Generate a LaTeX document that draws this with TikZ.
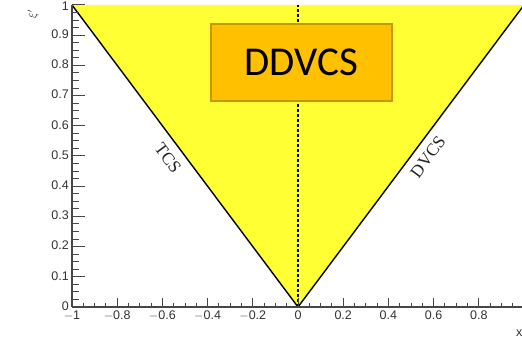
\documentclass[tikz,border=0pt]{standalone}
\usepackage{fontspec}
\setmainfont{Liberation Serif}
\newfontfamily\axisfont{Liberation Sans}
\newfontfamily\boxfont{Carlito}
\definecolor{tri}{RGB}{255,255,51}
\definecolor{boxfill}{RGB}{255,192,0}
\definecolor{boxedge}{RGB}{200,150,0}
\definecolor{axisgray}{RGB}{70,70,70}
\definecolor{labgray}{RGB}{50,50,50}
\begin{document}
\begin{tikzpicture}[x=1pt,y=-1pt,
  axisline/.style={draw=axisgray,line width=1.1pt},
  ticklab/.style={font=\axisfont\fontsize{12.5}{13}\selectfont,text=labgray,inner sep=0pt},
  edgeline/.style={draw=black,line width=1.4pt},
  sidelab/.style={font=\fontsize{17.5}{18}\selectfont,text=black!85,inner sep=0pt},
  ddbox/.style={draw=boxedge,fill=boxfill,line width=2pt,minimum width=181pt,minimum height=77pt,inner sep=0pt,font=\boxfont\fontsize{41}{44}\selectfont}]
\useasboundingbox (0,0) rectangle (522,344);
\begin{scope}
\clip (0,0) rectangle (522,344);
% key points
\coordinate (tl) at (72,5);
\coordinate (tr) at (524,5);
\coordinate (ap) at (298,307);
\coordinate (top0) at (298,5);
\coordinate (xend) at (522,307);
% triangle
\fill[tri] (tl) -- (ap) -- (tr) -- cycle;
\draw[edgeline] (tl) -- (ap);
\draw[edgeline] (ap) -- (tr);
% dashed centre line
\draw[black,line width=1.3pt,dash pattern=on 3pt off 2pt] (ap) -- (top0);
% axes
\draw[axisline] (ap -| tl) -- (tl);
\draw[axisline] (ap -| tl) -- (xend);
% y ticks
\foreach \i in {0,...,40}{
  \pgfmathsetmacro{\yy}{307-\i*302/40}
  \pgfmathtruncatemacro{\m}{mod(\i,4)}
  \ifnum\m=0
    \draw[axisgray,line width=1pt] (72,\yy) -- (85,\yy);
  \else
    \draw[axisgray,line width=1pt] (72,\yy) -- (79,\yy);
  \fi
}
% x ticks
\foreach \i in {0,...,40}{
  \pgfmathsetmacro{\xx}{72+\i*226/20}
  \pgfmathtruncatemacro{\m}{mod(\i,4)}
  \ifnum\m=0
    \draw[axisgray,line width=1pt] (\xx,307) -- (\xx,298);
  \else
    \draw[axisgray,line width=1pt] (\xx,307) -- (\xx,303);
  \fi
}
% y labels
\foreach \v/\lab in {0/0,1/0.1,2/0.2,3/0.3,4/0.4,5/0.5,6/0.6,7/0.7,8/0.8,9/0.9}{
  \node[ticklab,anchor=east] (yl\v) at (69,{306-\v*30.2}) {\lab};
}
\node[ticklab,anchor=east] (yl10) at (69,6) {1};
% x labels
\foreach \v/\lab in {0/$-$1,1/$-$0.8,2/$-$0.6,3/$-$0.4,4/$-$0.2,5/0,6/0.2,7/0.4,8/0.6,9/0.8}{
  \node[ticklab,anchor=north] (xl\v) at ({72+\v*45.2},311) {\axisfont\lab};
}
% axis titles
\node[ticklab,font=\fontsize{11}{12}\selectfont,rotate=90] (ytitle) at (33,14) {$\xi'$};
\node[ticklab,anchor=west] (xtitle) at (516,333) {x};
% side labels
\node[sidelab,rotate=-53.2] (tcs) at (168,158) {TCS};
\node[sidelab,rotate=53.2] (dvcs) at (428,157) {DVCS};
% DDVCS box
\node[ddbox] (dd) at (301.5,62.5) {DDVCS};
\end{scope}
\end{tikzpicture}
\end{document}
